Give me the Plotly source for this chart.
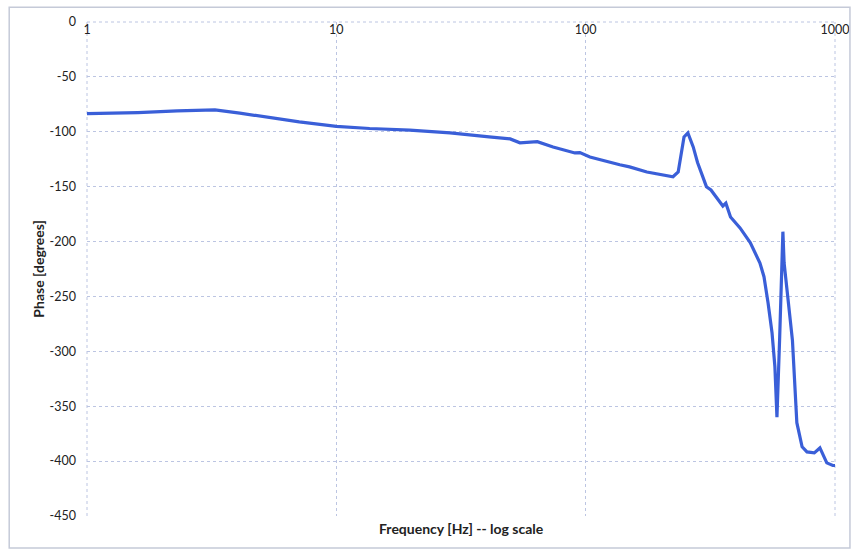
import plotly.graph_objects as go

freq = [1, 1.6, 2.3, 2.84, 3.26, 4.1, 4.9, 7.1, 10, 13.6, 19.7, 28.6, 41, 49.8, 54.5, 64, 74, 83,
        90.5, 94.8, 104, 137, 150, 176, 224, 235, 248, 257, 270, 281, 305, 318, 336, 355, 365,
        381, 416, 457, 500, 519, 539, 559, 574, 585, 600, 618, 625, 675, 703, 738, 772, 826,
        870, 927, 980, 1000]
phase = [-83.5, -82.5, -81, -80, -80, -83, -85.6, -91, -95, -97, -98.5, -101, -104.7, -106.5,
         -110, -109, -113.8, -116.6, -119.3, -119, -123, -130, -132, -136.6, -141, -136.6,
         -104.7, -101, -113.8, -128, -150, -153, -160, -167.6, -165, -177.6, -187.6, -201,
         -219.5, -232, -256, -283, -314, -360, -287, -191, -219.5, -290, -365, -387, -391.6,
         -392.5, -388, -401.6, -404, -404]

xtick_vals = [1, 10, 100, 1000]
xtick_text = ["1", "10", "100", "1000"]
ytick_vals = [0, -50, -100, -150, -200, -250, -300, -350, -400, -450]
ytick_text = ["0", "-50", "-100", "-150", "-200", "-250", "-300", "-350", "-400", "-450"]

grid_color = "#bcc5e2"

fig = go.Figure()
fig.add_trace(go.Scatter(x=freq, y=phase, mode="lines",
                         line=dict(color="#3a5fd8", width=3.2)))

fig.update_layout(
    width=854, height=552,
    margin=dict(l=87, r=19, t=22, b=36, autoexpand=False),
    paper_bgcolor="white", plot_bgcolor="white",
    showlegend=False,
    font=dict(family="Lato, Liberation Sans, sans-serif", size=12, color="#222"),
    xaxis=dict(type="log", range=[0, 3], side="top", ticklabelposition="inside",
               ticklabeloverflow="allow", automargin=False,
               tickvals=xtick_vals, ticktext=xtick_text, ticks="",
               showgrid=True, gridcolor=grid_color, griddash="dot", gridwidth=1,
               showline=False, zeroline=False, tickfont=dict(size=12.5, color="#222"),
               title=None),
    yaxis=dict(range=[-450, 0], tickvals=ytick_vals, ticktext=ytick_text, ticks="",
               ticklabeloverflow="allow", automargin=False,
               showgrid=True, gridcolor=grid_color, griddash="dot", gridwidth=1,
               showline=False, zeroline=False, tickfont=dict(size=12.5, color="#222"),
               ticklabelstandoff=10, title=None),
    shapes=[
        dict(type="rect", xref="paper", yref="paper",
             x0=-0.104, x1=1.02, y0=-0.065, y1=1.03,
             line=dict(color="#c5cad8", width=1.5)),
        dict(type="line", xref="paper", yref="paper", x0=0, x1=0, y0=0, y1=1,
             line=dict(color=grid_color, width=1, dash="dot"), layer="below"),
        dict(type="line", xref="paper", yref="paper", x0=0, x1=1, y0=1, y1=1,
             line=dict(color=grid_color, width=1, dash="dot"), layer="below"),
        dict(type="line", xref="paper", yref="paper", x0=1, x1=1, y0=0, y1=1,
             line=dict(color=grid_color, width=1, dash="dot"), layer="below"),
    ],
    annotations=[
        dict(text="<b>Frequency [Hz] -- log scale</b>", xref="paper", yref="paper",
             x=0.5, y=-0.004, xanchor="center", yanchor="top", showarrow=False,
             font=dict(size=14, color="#222")),
        dict(text="<b>Phase [degrees]</b>", xref="paper", yref="paper",
             x=-0.066, y=0.5, xanchor="center", yanchor="middle", showarrow=False,
             textangle=-90, font=dict(size=14, color="#222")),
    ],
)

fig.write_html("out.html", post_script="document.body.style.margin='0';",
               config={"displayModeBar": False})
